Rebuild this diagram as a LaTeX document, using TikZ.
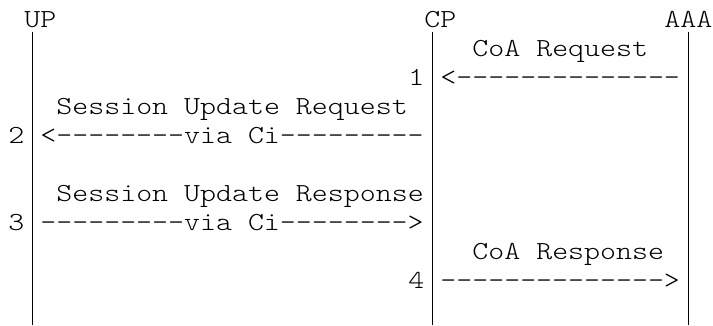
\documentclass[tikz,border=0pt]{standalone}
\usepackage{fontspec}
\setmonofont{lmmonolt10-regular.otf}[FakeStretch=1.17]
\usepackage{tikz}
\newcommand{\asciifont}{\ttfamily\fontsize{26pt}{29pt}\selectfont}

\begin{document}
\begin{tikzpicture}[x=16pt, y=-29pt, thick, ascii/.style = {font=\asciifont, inner sep=0pt, anchor=base west}, lifeline/.style = {line width=0.8pt}]
        \useasboundingbox (-8pt,27pt) rectangle (705pt,-298pt);

        \node[ascii] (up) at (1,0) {UP};
        \node[ascii] (cp) at (26,0) {CP};
        \node[ascii] (aaa) at (41,0) {AAA};

        \coordinate (up_top) at (1.5,0.17);
        \coordinate (up_bot) at (1.5,10.28);
        \coordinate (cp_top) at (26.5,0.17);
        \coordinate (cp_bot) at (26.5,10.28);
        \coordinate (aaa_top) at (42.5,0.17);
        \coordinate (aaa_bot) at (42.5,10.28);
        \draw[lifeline] (up_top) -- (up_bot);
        \draw[lifeline] (cp_top) -- (cp_bot);
        \draw[lifeline] (aaa_top) -- (aaa_bot);

        \node[ascii] (coa_req) at (29,1) {CoA Request};
        \node[ascii] (n_1) at (25,2) {1};
        \node[ascii] (msg_1) at (27,2) {<--------------};
        \node[ascii] (su_req) at (3,3) {Session Update Request};
        \node[ascii] (n_2) at (0,4) {2};
        \node[ascii] (msg_2) at (2,4) {<--------via Ci---------};
        \node[ascii] (su_res) at (3,6) {Session Update Response};
        \node[ascii] (n_3) at (0,7) {3};
        \node[ascii] (msg_3) at (2,7) {---------via Ci-------->};
        \node[ascii] (coa_res) at (29,8) {CoA Response};
        \node[ascii] (n_4) at (25,9) {4};
        \node[ascii] (msg_4) at (27,9) {-------------->};
    \end{tikzpicture}
\end{document}
